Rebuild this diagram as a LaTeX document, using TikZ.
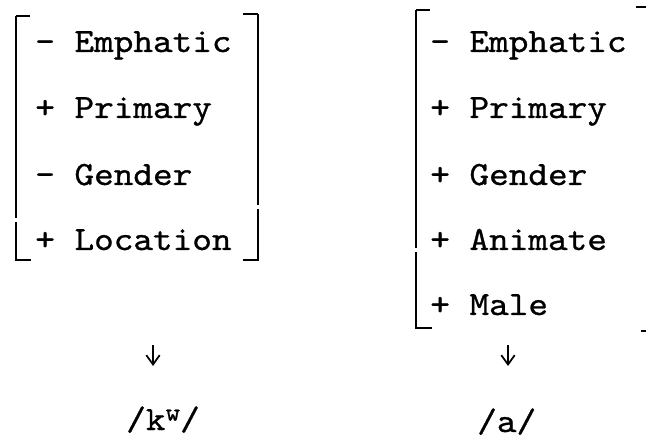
\documentclass[tikz,border=0pt]{standalone}
\usepackage{fontspec}
\usepackage{tikz}
\usetikzlibrary{arrows.meta}
\newfontfamily\typefont{lmmono10-regular.otf}[FakeStretch=1.1,FakeBold=0.8]

\tikzset{
  feat/.style={font=\typefont\fontsize{25.5}{30}\selectfont, anchor=base west, inner sep=0pt},
  brak/.style={line width=1.5pt},
  hook/.style={line width=1pt},
  derive/.style={line width=1.1pt, -{Straight Barb[length=7pt,width=10pt,line width=1.3pt]}}
}
\newcommand{\supw}{\raisebox{7pt}{\fontsize{19}{22}\selectfont w}}

\begin{document}
\begin{tikzpicture}[x=0.75pt,y=-0.75pt]
  \useasboundingbox (0,0) rectangle (646,438);
  % left matrix
  \node[feat] (emphL) at (35,52) {- Emphatic};
  \node[feat] (primL) at (35,118) {+ Primary};
  \node[feat] (gendL) at (35,185) {- Gender};
  \node[feat] (locL) at (35,250) {+ Location};
  \draw[hook] (30,16) -- (16,16);
  \draw[brak] (16,16) -- (16,218);
  \draw[brak] (16,222) -- (16,260) -- (31,260);
  \draw[hook] (243,14) -- (258,14);
  \draw[brak] (258,14) -- (258,205);
  \draw[brak] (258,209) -- (258,260) -- (243,260);
  % right matrix
  \node[feat] (emphR) at (430,52) {- Emphatic};
  \node[feat] (primR) at (430,118) {+ Primary};
  \node[feat] (gendR) at (430,185) {+ Gender};
  \node[feat] (animR) at (430,250) {+ Animate};
  \node[feat] (maleR) at (430,315) {+ Male};
  \draw[hook] (430,10) -- (416,10);
  \draw[brak] (416,10) -- (416,248);
  \draw[brak] (416,252) -- (416,328) -- (432,328);
  \draw[hook] (636,7) -- (646,7);
  \draw[hook] (641,331) -- (646,331);
  % outputs
  \node[feat] (kw) at (126,430) {/k\supw/};
  \node[feat] (a) at (477,432) {/a/};
  \coordinate (kTop) at (153,345);
  \coordinate (kBot) at (153,366);
  \coordinate (aTop) at (508,345);
  \coordinate (aBot) at (508,366);
  \draw[derive] (kTop) -- (kBot);
  \draw[derive] (aTop) -- (aBot);
\end{tikzpicture}
\end{document}
